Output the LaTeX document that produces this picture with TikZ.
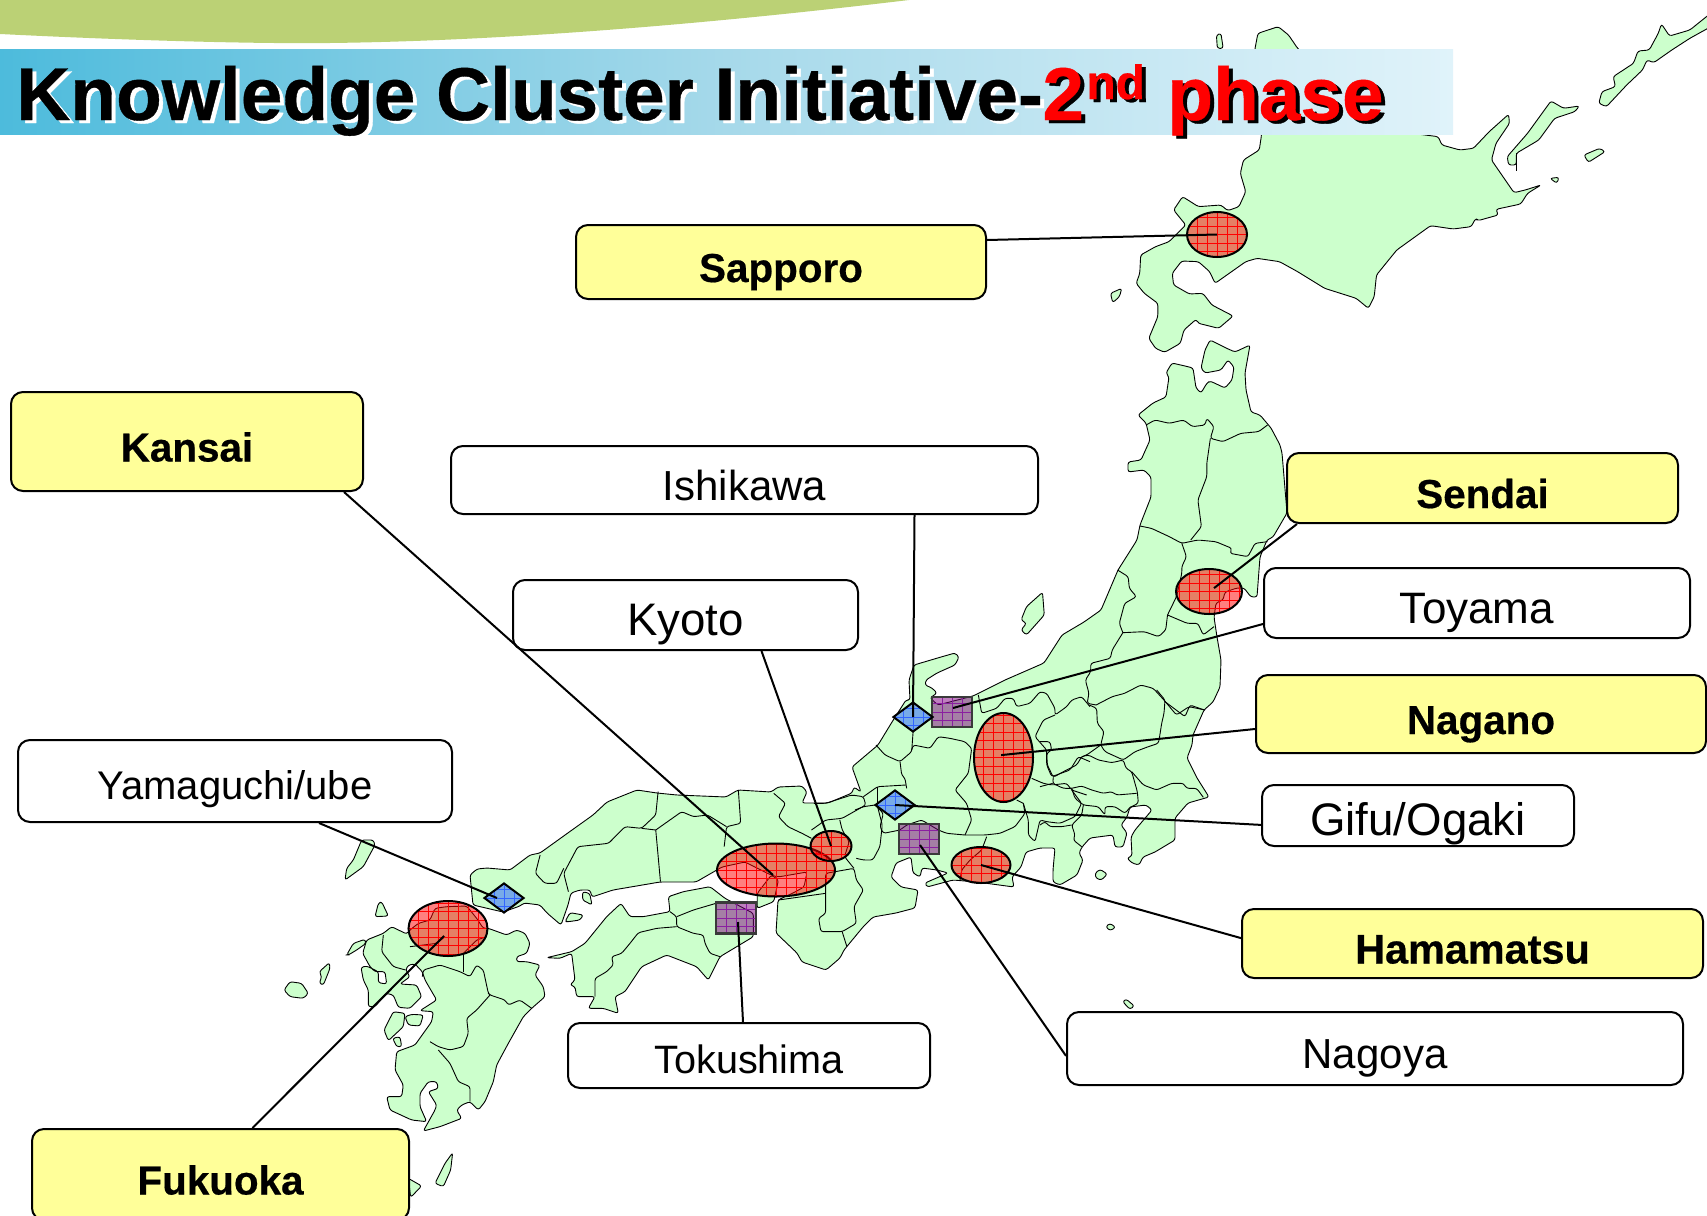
\documentclass[tikz,border=0pt]{standalone}
\usepackage{fontspec}
\setmainfont{Liberation Sans}[BoldFeatures={FakeBold=0.5}]
\usetikzlibrary{shapes.geometric}
\definecolor{land}{HTML}{CCFFCC}
\definecolor{arcgreen}{HTML}{BBD175}
\definecolor{barleft}{HTML}{4DBBDC}
\definecolor{barmid}{HTML}{A6D9EA}
\definecolor{barright}{HTML}{E0F3FA}
\definecolor{boxyellow}{HTML}{FFFF99}
\definecolor{marker}{HTML}{3366FF}
\definecolor{frame}{HTML}{3A3A3A}
\definecolor{plum}{HTML}{800080}
\definecolor{plumgrid}{HTML}{8A1FA0}
\tikzset{
  z1/.style={shift={(1000,0)},xscale=0.45086,yscale=0.33333},
  z2/.style={shift={(780,340)},xscale=0.35714,yscale=0.33333},
  z3/.style={shift={(500,660)},xscale=0.47194,yscale=0.33333},
  z4/.style={shift={(260,780)},xscale=0.33333,yscale=0.33333},
  z6/.style={shift={(1040,690)},xscale=0.33333,yscale=0.33333},
  z7/.style={shift={(850,650)},xscale=0.33333,yscale=0.33333},
  landshape/.style={fill=land,draw=black,line width=.45pt,line join=round,rounded corners=1.2pt},
  border/.style={draw=black,line width=.45pt,line join=round,rounded corners=1.2pt},
  labelbox/.style={draw=black,line width=1pt,rounded corners=6pt,inner sep=0pt,align=center,text height=20pt,text depth=0pt},
  hotbox/.style={labelbox,fill=boxyellow,font=\fontsize{20.2pt}{24pt}\selectfont\bfseries},
  plainbox/.style={labelbox,fill=white,font=\fontsize{21pt}{24pt}\selectfont},
  gridded/.style={path picture={
    \foreach \i in {-12,...,12}{
      \draw[#1,line width=.3pt,opacity=1] ([xshift=\i*5pt]path picture bounding box.center) ++(0,-60pt) -- ++(0,120pt);
      \draw[#1,line width=.3pt,opacity=1] ([yshift=\i*4.25pt]path picture bounding box.center) ++(-60pt,0) -- ++(120pt,0);
    }}},
  hotspot/.style={ellipse,draw=black,line width=1pt,fill=red,fill opacity=.5,inner sep=0pt,gridded=red},
  squarespot/.style={rectangle,draw=frame,line width=1.3pt,fill=plum,fill opacity=.5,inner sep=0pt,gridded=plumgrid},
  gemspot/.style={diamond,aspect=1.33,draw=black,line width=1pt,fill=marker,fill opacity=.55,inner sep=0pt,gridded=marker},
  link/.style={draw=black,line width=1pt},
  titleblack/.style={anchor=base west,inner sep=0pt,text=black,font=\fontsize{37.4pt}{40pt}\selectfont\bfseries},
  titlewhite/.style={titleblack,text=white},
  titlered/.style={titleblack,text=red},
  smallblack/.style={titleblack,font=\fontsize{24pt}{26pt}\selectfont\bfseries},
  smallred/.style={smallblack,text=red},
}
\begin{document}
\begin{tikzpicture}[x=0.5pt,y=-0.5pt]
\useasboundingbox (0,0) rectangle (1707,1215);
\begin{scope}
\clip (0,0) rectangle (1707,1215);
% top arc
\fill[arcgreen] (0,0) -- (0,34) .. controls (120,40) and (250,44) .. (330,43) .. controls (500,41) and (700,25) .. (909,0) -- cycle;
% Hokkaido + islands
\begin{scope}[z1]
\draw[landshape] (617,80)--(572,100)--(565,150)--(580,405)--(575,450)--(540,480)--(533,520)--(545,575)--(530,620)--(505,632)--(490,615)--(440,620)--(405,590)--(385,630)--(412,675)--(375,725)--(345,740)--(312,765)--(310,820)--(302,850)--(320,880)--(350,910)--(350,950)--(330,1015)--(345,1045)--(365,1057)--(400,1030)--(408,990)--(435,958)--(440,970)--(485,985)--(517,948)--(470,915)--(450,880)--(420,882)--(385,855)--(382,820)--(403,783)--(440,785)--(465,815)--(477,850)--(545,785)--(570,775)--(620,785)--(660,815)--(720,865)--(790,895)--(817,925)--(830,890)--(835,825)--(880,750)--(955,677)--(1005,687)--(1045,680)--(1055,655)--(1060,662)--(1105,645)--(1100,628)--(1155,612)--(1170,580)--(1200,555)--(1165,570)--(1140,578)--(1090,480)--(1100,430)--(1130,370)--(1128,343)--(1085,395)--(1050,445)--(1020,450)--(980,435)--(972,410)--(925,402)--(800,300)--(660,145)--(640,105)--cycle;
\draw[landshape] (480,105)--(490,100)--(495,145)--(482,145)--cycle;
\draw[landshape] (245,880)--(270,865)--(265,890)--(250,908)--cycle;
\draw[landshape] (1125,470)--(1170,400)--(1222,303)--(1250,325)--(1285,318)--(1275,335)--(1230,355)--(1195,420)--(1145,460)--(1145,495)--(1128,495)--cycle;
\draw[border] (1145,460)--(1145,512);
\draw[landshape] (1328,310)--(1335,275)--(1365,260)--(1360,230)--(1405,190)--(1415,153)--(1440,150)--(1460,100)--(1467,72)--(1485,108)--(1530,90)--(1590,25)--(1590,70)--(1530,115)--(1490,150)--(1450,188)--(1435,180)--(1425,210)--(1390,255)--(1345,320)--cycle;
\draw[landshape] (1295,465)--(1330,445)--(1342,455)--(1305,487)--cycle;
\draw[landshape] (1220,535)--(1240,532)--(1235,550)--cycle;
\end{scope}
% Honshu
\draw[landshape] (1172,363)--(1185,366)--(1193,368)--(1196,388)--(1201,393)--(1207,383)--(1210,381)--(1225,388)--(1232,380)--(1234,367)--(1228,360)--(1221,370)--(1205,373)--(1201,368)--(1205,350)--(1210,340)--(1226,348)--(1235,352)--(1250,345)--(1245,373)--(1246,390)--(1251,412)--(1260,415)--(1271,428)--(1280,445)--(1282,453)--(1287,513)--(1273,537)--(1267,540)--(1260,557)--(1259,570)--(1257,597)--(1251,597)--(1244,588)--(1237,588)--(1225,592)--(1223,600)--(1216,603)--(1214,617)--(1217,637)--(1221,660)--(1220,687)--(1213,702)--(1204,710)--(1193,735)--(1192,745)--(1187,758)--(1197,778)--(1209,797)--(1188,803)--(1175,818)--(1175,840)--(1155,852)--(1143,857)--(1139,865)--(1132,863)--(1127,858)--(1132,856)--(1131,837)--(1135,830)--(1152,810)--(1146,805)--(1130,807)--(1127,817)--(1121,825)--(1127,833)--(1123,847)--(1115,847)--(1113,835)--(1090,838)--(1082,847)--(1079,853)--(1083,860)--(1077,875)--(1060,885)--(1053,882)--(1053,870)--(1055,848)--(1040,848)--(1026,852)--(1021,867)--(1012,877)--(1014,887)--(977,882)--(953,880)--(927,887)--(925,883)--(948,873)--(937,870)--(922,868)--(920,877)--(913,873)--(911,857)--(896,863)--(891,877)--(901,887)--(918,890)--(915,908)--(896,913)--(873,917)--(863,927)--(844,950)--(840,958)--(826,970)--(802,962)--(797,953)--(776,933)--(778,900)--(793,893)--(804,887)--(807,872)--(778,877)--(771,875)--(745,862)--(722,867)--(696,882)--(660,882)--(613,890)--(592,897)--(590,890)--(580,890)--(571,893)--(568,905)--(561,925)--(547,913)--(540,905)--(524,903)--(520,906)--(503,912)--(473,905)--(470,875)--(477,869)--(487,868)--(510,870)--(530,855)--(540,853)--(572,830)--(593,815)--(607,802)--(637,790)--(657,793)--(677,795)--(726,797)--(738,790)--(771,792)--(778,787)--(802,786)--(807,792)--(802,803)--(814,803)--(828,803)--(852,793)--(854,787)--(861,792)--(852,767)--(878,745)--(892,722)--(906,700)--(910,700)--(909,680)--(914,665)--(941,657)--(955,653)--(959,657)--(955,665)--(937,673)--(926,680)--(925,685)--(932,688)--(937,693)--(930,698)--(938,705)--(973,696)--(1005,680)--(1044,663)--(1062,635)--(1084,622)--(1101,610)--(1118,570)--(1137,540)--(1140,525)--(1151,497)--(1151,477)--(1144,470)--(1128,472)--(1128,462)--(1141,460)--(1150,440)--(1146,423)--(1138,415)--(1153,403)--(1166,397)--(1169,377)--(1166,373)--cycle;
\begin{scope}[z2]
\draw[border] (1025,255)--(1050,240)--(1090,250)--(1130,240)--(1155,260)--(1190,255)--(1195,235)--(1215,260)--(1205,295)--(1240,305)--(1290,280)--(1340,275)--(1365,255);
\draw[border] (1205,295)--(1195,370)--(1195,410)--(1170,480)--(1180,560)--(1150,600);
\draw[border] (1008,558)--(1040,565)--(1090,590)--(1125,610)--(1170,600)--(1220,605)--(1265,625)--(1260,640)--(1310,650)--(1330,610)--(1365,605);
\draw[border] (1125,610)--(1138,650)--(1125,680)--(1125,700)--(1110,770)--(1085,825);
\draw[border] (945,690)--(975,710)--(978,745)--(998,770)--(965,790)--(950,850)--(960,878);
\draw[border] (960,878)--(1020,875)--(1060,890)--(1080,870)--(1085,825);
\draw[border] (1085,825)--(1140,850)--(1170,850)--(1185,885)--(1215,860);
\draw[border] (960,878)--(930,930)--(925,955)--(870,970)--(870,995)--(855,1020)--(865,1060)--(860,1090)--(885,1095);
\draw[border] (885,1095)--(930,1070)--(965,1060)--(1010,1035)--(1045,1045)--(1075,1080)--(1110,1125)--(1145,1100)--(1190,1110);
\draw[landshape] (735,757)--(690,800)--(675,840)--(690,850)--(675,870)--(690,885)--(740,825)--cycle;
\end{scope}
% Kanto
\begin{scope}[z6]
\draw[border] (148,45)--(170,55)--(172,100)--(192,125)--(182,165)--(195,185)--(250,210)--(285,185)--(325,170)--(355,160)--(358,145)--(365,100)--(372,70)--(375,30)--(350,0);
\draw[border] (375,35)--(435,80)--(450,45)--(493,60);
\draw[border] (182,165)--(140,195)--(125,200)--(110,225)--(70,245)--(40,262)--(22,225)--(20,190)--(35,180)--(30,155)--(0,155);
\draw[border] (125,200)--(145,195)--(175,210)--(215,218)--(250,210)--(258,235)--(275,245)--(292,305)--(295,340)--(270,352);
\draw[border] (275,245)--(310,285)--(350,300)--(395,280)--(430,280)--(440,295)--(470,295)--(490,322);
\draw[border] (40,262)--(38,280)--(70,295)--(95,295)--(125,288)--(155,300)--(190,310)--(215,305)--(230,315)--(290,310);
\draw[border] (95,295)--(105,325)--(130,345)--(175,350)--(195,375)--(195,350)--(225,350)--(255,370)--(270,352);
\draw[border] (130,345)--(125,375)--(95,405)--(105,435)--(100,450)--(125,470);
\draw[border] (95,405)--(65,410)--(30,410)--(15,395)--(0,405);
\draw[border] (38,280)--(0,290);
\draw[landshape] (165,550)--(180,538)--(202,552)--(185,570)--(168,565)--cycle;
\draw[landshape] (197,710)--(210,700)--(227,712)--(210,722)--cycle;
\draw[landshape] (248,935)--(258,927)--(283,948)--(270,958)--cycle;
\end{scope}
% Chubu
\begin{scope}[z7]
\draw[border] (385,135)--(395,190)--(440,175)--(465,145)--(490,145)--(500,170)--(540,160)--(570,125)--(590,130)--(615,175)--(615,195)--(650,170)--(665,150)--(695,140)--(720,170);
\draw[border] (615,195)--(580,210)--(555,260)--(590,300)--(590,345)--(605,380)--(660,360)--(685,320)--(720,335);
\draw[border] (185,300)--(190,285)--(240,295)--(265,260)--(300,265)--(345,275)--(365,295)--(355,370)--(315,420)--(350,460)--(365,510)--(345,555);
\draw[border] (78,285)--(105,315)--(150,335)--(185,305)--(190,235);
\draw[border] (150,335)--(155,375)--(165,385)--(170,415);
\draw[border] (75,465)--(40,470)--(15,480);
\draw[border] (345,555)--(290,550)--(265,540)--(215,510)--(170,525)--(150,540)--(100,550)--(90,530)--(100,490)--(75,465);
\draw[border] (520,460)--(525,490)--(495,530)--(450,550)--(405,555)--(345,555);
\draw[border] (410,560)--(395,600)--(360,630)--(335,660)--(330,690);
\draw[border] (520,460)--(535,510)--(535,555)--(555,575)--(570,510)--(590,515)--(630,520)--(675,500)--(695,460)--(665,420);
\draw[border] (545,385)--(580,400)--(605,405)--(650,400)--(665,420)--(710,435);
\draw[border] (500,450)--(520,460);
\end{scope}
\begin{scope}[z3]
\draw[border] (800,440)--(810,495)--(805,560)--(790,600)--(770,600)--(755,595);
\draw[border] (860,375)--(800,380)--(770,410);
\draw[border] (800,380)--(800,440);
\draw[border] (720,480)--(725,510)--(740,545)--(730,590)--(750,625);
\draw[border] (690,700)--(690,760)--(675,775)--(680,815)--(725,815)--(755,790)--(750,740)--(770,690)--(755,660)--(750,625)--(710,635)--(690,640)--(690,700);
\draw[border] (725,815)--(735,860);
\draw[border] (590,720)--(690,700);
\draw[border] (580,400)--(605,430)--(590,470)--(610,500)--(640,520)--(660,535);
\draw[border] (505,390)--(510,490)--(480,500)--(475,560);
\draw[border] (330,510)--(340,665);
\draw[border] (330,510)--(385,455)--(410,470)--(440,465)--(480,500);
\draw[border] (335,395)--(330,465)--(300,505)--(265,500)--(230,550)--(165,560)--(135,640)--(145,695);
\draw[border] (330,510)--(300,505);
\draw[border] (85,585)--(75,640)--(95,670)--(120,670)--(135,625);
\draw[border] (665,430)--(690,430)--(745,405)--(770,410)--(775,435)--(725,475)--(690,480)--(660,510);
% Awaji, Shodoshima
\draw[landshape] (575,645)--(545,700)--(545,745)--(580,725)--(590,660)--cycle;
\draw[landshape] (175,695)--(190,700)--(195,735)--(175,720)--cycle;
\end{scope}
% Shikoku, Kyushu
\begin{scope}[z4]
\draw[landshape] (860,533)--(935,515)--(975,490)--(1040,410)--(1083,370)--(1110,410)--(1150,410)--(1230,395)--(1225,350)--(1270,335)--(1350,320)--(1395,355)--(1480,400)--(1480,470)--(1380,530)--(1345,600)--(1310,560)--(1220,525)--(1145,560)--(1095,635)--(1065,650)--(1075,700)--(1030,685)--(985,685)--(1005,650)--(950,650)--(945,620)--(930,615)--(945,600)--(935,520)--(900,535)--cycle;
\draw[border] (1230,395)--(1250,410)--(1250,440)--(1300,460)--(1330,465)--(1335,490)--(1350,520)--(1380,530);
\draw[border] (1250,410)--(1300,390)--(1368,370);
\draw[border] (1250,440)--(1190,445)--(1135,458)--(1110,490)--(1085,520)--(1055,530)--(1060,555)--(1040,575)--(1005,595)--(1005,650);
\draw[landshape] (370,460)--(395,440)--(440,462)--(450,450)--(475,430)--(510,420)--(525,385)--(560,380)--(620,378)--(650,415)--(670,445)--(685,445)--(740,465)--(770,450)--(795,460)--(810,490)--(800,520)--(770,530)--(770,545)--(800,545)--(840,555)--(825,585)--(850,620)--(855,650)--(815,685)--(790,710)--(745,790)--(710,855)--(700,905)--(675,965)--(655,990)--(630,965)--(605,975)--(590,990)--(605,1015)--(540,1040)--(490,1053)--(525,990)--(530,975)--(505,935)--(535,925)--(530,905)--(505,905)--(480,940)--(480,980)--(500,1025)--(455,1020)--(390,990)--(380,950)--(425,950)--(430,915)--(405,870)--(410,815)--(465,795)--(515,725)--(520,695)--(480,692)--(530,660)--(495,600)--(487,575)--(465,552)--(445,555)--(437,570)--(450,590)--(420,612)--(470,615)--(485,650)--(450,685)--(415,682)--(400,645)--(378,640)--(345,680)--(325,680)--(325,630)--(310,600)--(303,562)--(320,558)--(355,575)--(355,608)--(380,612)--(375,575)--(345,575)--(330,560)--(308,520)--(320,480)--cycle;
\draw[border] (370,465)--(365,515)--(400,560)--(437,570);
\draw[border] (450,500)--(530,490)--(555,470);
\draw[border] (487,590)--(490,570)--(540,555)--(600,575)--(630,590)--(650,555)--(670,570)--(685,640)--(690,645)--(735,660)--(745,675)--(780,660)--(815,685);
\draw[border] (610,520)--(610,575);
\draw[border] (610,520)--(650,480)--(680,470);
\draw[border] (690,645)--(650,690)--(620,715)--(625,760)--(610,800)--(570,810)--(535,800)--(510,785);
\draw[border] (535,810)--(570,850)--(595,905)--(630,920)--(630,965);
\draw[landshape] (340,180)--(345,195)--(310,260)--(255,300)--(260,265)--(280,240)--(305,180)--cycle;
\draw[landshape] (345,410)--(355,370)--(365,365)--(385,408)--cycle;
\draw[landshape] (915,425)--(930,398)--(970,405)--(960,420)--(925,425)--cycle;
\draw[landshape] (260,525)--(280,490)--(315,478)--(318,490)--(290,510)--(265,525)--cycle;
\draw[landshape] (178,575)--(208,548)--(210,565)--(190,615)--(178,610)--(185,590)--cycle;
\draw[landshape] (72,630)--(90,605)--(125,610)--(145,640)--(130,655)--(90,650)--cycle;
\draw[landshape] (372,750)--(400,695)--(435,700)--(430,740)--(385,782)--cycle;
\draw[landshape] (435,710)--(455,703)--(490,705)--(480,738)--(445,735)--cycle;
\draw[landshape] (398,775)--(420,770)--(425,800)--(410,800)--cycle;
\draw[landshape] (525,1210)--(555,1150)--(578,1118)--(572,1170)--(550,1220)--cycle;
\draw[landshape] (445,1195)--(485,1218)--(452,1252)--cycle;
\end{scope}
% title bar
\shade[left color=barleft,right color=barright,middle color=barmid] (0,49) rectangle (1453,134);
\node[titlewhite] (tA) at (20,123) {Knowledge Cluster Initiative-};
\node[titleblack] (tB) at (16,120) {Knowledge Cluster Initiative-};
\node[titleblack] (tC) at (1046,123) {2};
\node[titlered] (tD) at (1042,120) {2};
\node[smallblack] (tE) at (1090,102) {nd};
\node[smallred] (tF) at (1086,99) {nd};
\node[titleblack] (tG) at (1171,123) {phase};
\node[titlered] (tH) at (1167,120) {phase};
% markers
\node[hotspot,minimum width=30pt,minimum height=22.5pt] (sSapporo) at (1217,234.5) {};
\node[hotspot,minimum width=33pt,minimum height=22.5pt] (sSendai) at (1209,591.5) {};
\node[hotspot,minimum width=29.5pt,minimum height=44.5pt] (sNagano) at (1003.5,757.5) {};
\node[hotspot,minimum width=59pt,minimum height=26.5pt] (sKansai) at (776,870) {};
\node[hotspot,minimum width=20.5pt,minimum height=15pt] (sKyoto) at (831,846) {};
\node[hotspot,minimum width=29.5pt,minimum height=18pt] (sHamamatsu) at (981,865) {};
\node[hotspot,minimum width=39.5pt,minimum height=27.5pt] (sFukuoka) at (448,928.5) {};
\node[squarespot,minimum width=20pt,minimum height=15pt] (sToyama) at (952,712) {};
\node[squarespot,minimum width=20pt,minimum height=15pt] (sNagoya) at (919,839) {};
\node[squarespot,minimum width=20pt,minimum height=15.5pt] (sTokushima) at (736,918) {};
\node[gemspot,minimum width=20pt,minimum height=15pt] (sIshikawa) at (913,717) {};
\node[gemspot,minimum width=20pt,minimum height=15pt] (sGifu) at (895,805) {};
\node[gemspot,minimum width=20pt,minimum height=15pt] (sYamaguchi) at (504,898) {};
% boxes
\node[hotbox,minimum width=205pt,minimum height=37pt] (bSapporo) at (781,262) {Sapporo};
\node[hotbox,minimum width=176pt,minimum height=49.5pt] (bKansai) at (187,441.5) {Kansai};
\node[plainbox,minimum width=293.5pt,minimum height=34pt] (bIshikawa) at (744.5,480) {Ishikawa};
\node[plainbox,minimum width=172.5pt,minimum height=35pt,font=\fontsize{22.8pt}{24pt}\selectfont] (bKyoto) at (685.5,615) {Kyoto};
\node[hotbox,minimum width=195.5pt,minimum height=35pt] (bSendai) at (1482.5,488) {Sendai};
\node[plainbox,minimum width=213pt,minimum height=35pt,font=\fontsize{22pt}{24pt}\selectfont] (bToyama) at (1477,603) {Toyama};
\node[hotbox,minimum width=225pt,minimum height=39pt] (bNagano) at (1481,714) {Nagano};
\node[plainbox,minimum width=156pt,minimum height=30.5pt,font=\fontsize{22.8pt}{24pt}\selectfont] (bGifu) at (1418,815.5) {Gifu/Ogaki};
\node[plainbox,minimum width=217pt,minimum height=41pt,font=\fontsize{20pt}{24pt}\selectfont,text height=18pt] (bYamaguchi) at (235,781) {Yamaguchi/ube};
\node[hotbox,minimum width=230.5pt,minimum height=34.5pt,font=\fontsize{20.7pt}{24pt}\selectfont\bfseries] (bHamamatsu) at (1472.5,943.5) {Hamamatsu};
\node[plainbox,minimum width=181pt,minimum height=32.5pt,font=\fontsize{19.8pt}{24pt}\selectfont,text height=18pt] (bTokushima) at (749,1055.5) {Tokushima};
\node[plainbox,minimum width=308pt,minimum height=36.5pt] (bNagoya) at (1375,1048.5) {Nagoya};
\node[hotbox,minimum width=188.5pt,minimum height=45.5pt] (bFukuoka) at (220.5,1174.5) {Fukuoka};
% connectors
\draw[link] ([yshift=11pt]bSapporo.east) -- (sSapporo.center);
\draw[link] ([xshift=5.5pt]bSendai.south west) -- ([shift={(2.5pt,1.7pt)}]sSendai.center);
\draw[link] ([yshift=-10.5pt]bToyama.west) -- ([shift={(.5pt,2pt)}]sToyama.center);
\draw[link] ([yshift=-7.5pt]bNagano.west) -- ([shift={(-1.2pt,1.2pt)}]sNagano.center);
\draw[link] ([yshift=-4.7pt]bGifu.west) -- (sGifu.center);
\draw[link] ([yshift=2.7pt]bHamamatsu.west) -- (sHamamatsu.center);
\draw[link] ([yshift=-3.7pt]bNagoya.west) -- ([shift={(.5pt,-3pt)}]sNagoya.center);
\draw[link] ([xshift=-3pt]bTokushima.north) -- ([shift={(1pt,-2pt)}]sTokushima.center);
\draw[link] ([xshift=-10pt]bKansai.south east) -- ([shift={(-1.5pt,-2.5pt)}]sKansai.center);
\draw[link] ([xshift=38pt]bKyoto.south) -- (sKyoto.center);
\draw[link] ([xshift=85pt]bIshikawa.south) -- (sIshikawa.center);
\draw[link] ([xshift=42pt]bYamaguchi.south) -- ([xshift=-3.5pt]sYamaguchi.center);
\draw[link] ([xshift=16pt]bFukuoka.north) -- ([shift={(-2pt,-3.7pt)}]sFukuoka.center);
\end{scope}
\end{tikzpicture}
\end{document}
